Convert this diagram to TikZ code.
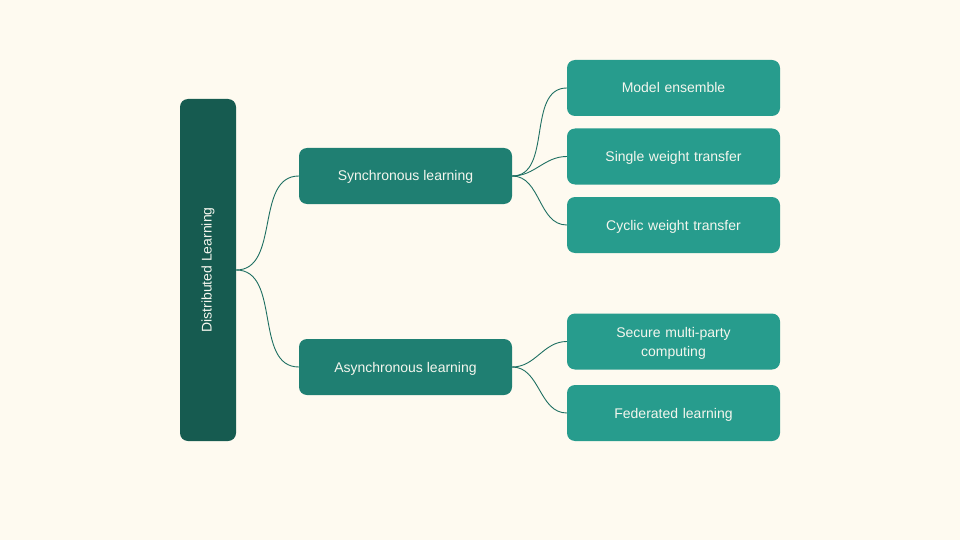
\documentclass[tikz,border=0pt]{standalone}
\usepackage{fontspec}
\setmainfont{Liberation Sans}
\definecolor{bg}{HTML}{FEFAF0}
\definecolor{rootc}{HTML}{165B50}
\definecolor{midc}{HTML}{1F7F72}
\definecolor{leafc}{HTML}{279C8D}
\definecolor{edgec}{HTML}{1E6F62}
\definecolor{txt}{HTML}{F4F6EE}
\begin{document}
\begin{tikzpicture}[x=1pt,y=-1pt,
  box/.style={rectangle,rounded corners=8pt,text=txt,font=\fontsize{14}{19}\selectfont,align=center,inner sep=0pt},
  oneline/.style={text height=13pt,text depth=3pt},
  rootbox/.style={rectangle,rounded corners=8pt,fill=rootc,minimum width=56pt,minimum height=342pt},
  midbox/.style={box,oneline,fill=midc,minimum width=213pt,minimum height=56pt},
  leafbox/.style={box,fill=leafc,minimum width=213pt,minimum height=56pt,text width=180pt},
  conn/.style={draw=edgec,line width=0.9pt}]
\fill[bg] (0,0) rectangle (960,540);
\useasboundingbox (0,0) rectangle (960,540);
\node[rootbox] (root) at (208,270) {};
\node[text=txt,font=\fontsize{14}{16.5}\selectfont,rotate=90] (roottxt) at (208,270) {Distributed Learning};
\node[midbox] (sync) at (405.5,176) {Synchronous learning};
\node[midbox] (async) at (405.5,367) {Asynchronous learning};
\node[leafbox,oneline] (l1) at (673.5,88) {Model ensemble};
\node[leafbox,oneline] (l2) at (673.5,156.5) {Single weight transfer};
\node[leafbox,oneline] (l3) at (673.5,225) {Cyclic weight transfer};
\node[leafbox] (l4) at (673.5,341.5) {\rule{0pt}{14.5pt}Secure multi-party\\computing};
\node[leafbox,oneline] (l5) at (673.5,413) {Federated learning};
\draw[conn] (root.east) to[out=0,in=180] (sync.west);
\draw[conn] (root.east) to[out=0,in=180] (async.west);
\draw[conn] (sync.east) to[out=0,in=180] (l1.west);
\draw[conn] (sync.east) to[out=0,in=180] (l2.west);
\draw[conn] (sync.east) to[out=0,in=180] (l3.west);
\draw[conn] (async.east) to[out=0,in=180] (l4.west);
\draw[conn] (async.east) to[out=0,in=180] (l5.west);
\end{tikzpicture}
\end{document}
